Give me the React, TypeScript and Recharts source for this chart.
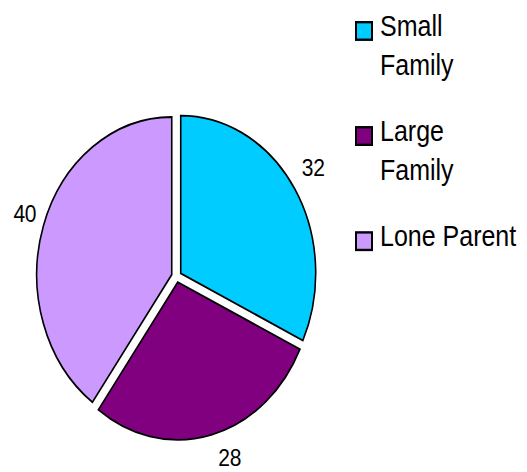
import React from 'react';
import { PieChart, Pie, Cell, Legend, Sector } from 'recharts';

const categories = ['Small Family', 'Large Family', 'Lone Parent'];
const values = [32, 28, 40];
const colors = ['#00CCFF', '#800080', '#CC99FF'];

const data = categories.map((name, i) => ({ name, value: values[i] }));

const RAD = Math.PI / 180;
const FONT = '"Liberation Sans", Arial, Helvetica, sans-serif';
const SCALE_Y = 1.168;
const EXPLODE = 5;

const ExplodedSector = (props: any) => {
  const dx = EXPLODE * Math.cos(-props.midAngle * RAD);
  const dy = EXPLODE * Math.sin(-props.midAngle * RAD);
  return (
    <Sector
      cx={props.cx + dx}
      cy={props.cy + dy}
      innerRadius={props.innerRadius}
      outerRadius={props.outerRadius}
      startAngle={props.startAngle}
      endAngle={props.endAngle}
      fill={props.fill}
      stroke="#000"
      strokeWidth={1.6}
    />
  );
};

// Excel-like "outside end" placement: label box sits against the slice edge
const renderLabel = (props: any) => {
  const c = Math.cos(-props.midAngle * RAD);
  const s = Math.sin(-props.midAngle * RAD);
  const r = props.outerRadius + EXPLODE;
  const ex = props.cx + r * c;
  const ey = props.cy + r * s;
  const x = ex + Math.sign(c) * Math.min(1, Math.abs(c) * 4) * 18.5;
  const y = ey + Math.sign(s) * Math.min(1, Math.abs(s) * 1.8) * 19;
  return (
    <text
      x={x}
      y={y}
      textAnchor="middle"
      dominantBaseline="central"
      fill="#000"
      fontSize={21}
      letterSpacing={-0.3}
      fontFamily={FONT}
    >
      {props.value}
    </text>
  );
};

const renderLegend = (props: any) => {
  const payload = [...(props.payload || [])].sort(
    (a: any, b: any) => categories.indexOf(a.value) - categories.indexOf(b.value)
  );
  return (
    <div style={{ fontFamily: FONT, fontSize: 25, lineHeight: '33px', color: '#000', paddingTop: 6 }}>
      {payload.map((entry: any, i: number) => (
        <div key={i} style={{ display: 'flex', alignItems: 'flex-start', marginBottom: 24 }}>
          <span
            style={{
              display: 'inline-block',
              boxSizing: 'border-box',
              width: 18,
              height: 17,
              marginTop: 12,
              marginRight: 7,
              background: entry.color,
              border: '2px solid #000',
              flex: '0 0 auto',
            }}
          />
          <span style={{ width: 140, display: 'inline-block' }}>{entry.value}</span>
        </div>
      ))}
    </div>
  );
};

export default function App() {
  return (
    <div
      style={{
        position: 'absolute',
        left: 0,
        top: 0,
        width: 527,
        height: 404,
        transform: `scaleY(${SCALE_Y})`,
        transformOrigin: '0 0',
        background: '#fff',
      }}
    >
      <PieChart width={527} height={404} margin={{ top: 0, right: 0, bottom: 0, left: 0 }}>
        <Pie
          data={data}
          dataKey="value"
          nameKey="name"
          cx={176.5}
          cy={236.7}
          outerRadius={135}
          startAngle={90}
          endAngle={-270}
          isAnimationActive={false}
          label={renderLabel}
          labelLine={false}
          shape={ExplodedSector}
        >
          {data.map((d, i) => (
            <Cell key={d.name} fill={colors[i]} stroke="#000" strokeWidth={1.6} />
          ))}
        </Pie>
        <Legend
          layout="vertical"
          align="right"
          verticalAlign="top"
          content={renderLegend}
          wrapperStyle={{ left: 355, top: 0, width: 172 }}
        />
      </PieChart>
    </div>
  );
}
